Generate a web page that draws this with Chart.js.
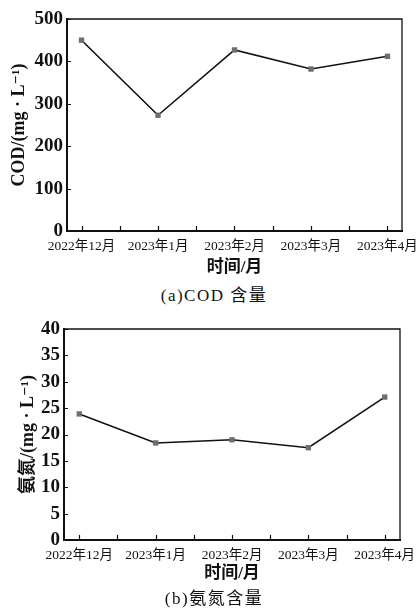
<!DOCTYPE html>
<html>
<head>
<meta charset="utf-8">
<script src="https://cdn.jsdelivr.net/npm/chart.js@4"></script>
<style>
    body { margin: 0; background: #fff; }
    .panel { position: relative; width: 419px; }
    .caption {
        position: absolute; left: 0; width: 428px; text-align: center;
        font-family: "Liberation Serif", "Times New Roman", Times, "DejaVu Serif", "Noto Sans CJK SC", serif;
        font-size: 17px; line-height: 18px; letter-spacing: 1.5px; color: #111;
    }
</style>
</head>
<body>
<div class="panel" style="height:310px">
    <div style="position:absolute;left:0;top:0;width:419px;height:285px"><canvas id="codChart"></canvas></div>
    <div class="caption" style="top:287px">(a)COD 含量</div>
</div>
<div class="panel" style="height:305px">
    <div style="position:absolute;left:0;top:0;width:419px;height:280px"><canvas id="nh3Chart"></canvas></div>
    <div class="caption" style="top:280px">(b)氨氮含量</div>
</div>
<script>
// data
const months = ['2022年12月', '2023年1月', '2023年2月', '2023年3月', '2023年4月'];
const codValues = [450, 273, 427, 382, 412];
const nh3Values = [23.9, 18.4, 19.0, 17.5, 27.1];

const SERIF = '"Liberation Serif", "Times New Roman", Times, "DejaVu Serif", "Noto Sans CJK SC", serif';

// tick positions: one per month plus a minor one in between
const xTickValues = months.flatMap((m, i) => i < months.length - 1 ? [i, i + 0.5] : [i]);

// frame on top/right + inward tick marks
const frameTicks = {
    id: 'frameTicks',
    afterDraw(chart) {
        const { ctx, chartArea: a, scales: { x, y } } = chart;
        ctx.save();
        ctx.strokeStyle = '#111';
        ctx.lineWidth = 1.3;
        ctx.beginPath();
        ctx.moveTo(a.left, a.top);
        ctx.lineTo(a.right, a.top);
        ctx.lineTo(a.right, a.bottom);
        ctx.stroke();

        ctx.lineWidth = 1.2;
        ctx.beginPath();
        x.ticks.forEach(t => {
            const px = Math.round(x.getPixelForValue(t.value)) + 0.5;
            ctx.moveTo(px, a.bottom);
            ctx.lineTo(px, a.bottom - 5);
        });
        y.ticks.forEach(t => {
            const py = Math.round(y.getPixelForValue(t.value)) + 0.5;
            ctx.moveTo(a.left, py);
            ctx.lineTo(a.left + 4, py);
        });
        ctx.stroke();
        ctx.restore();
    }
};

function makeChart(id, values, cfg) {
    const ctx = document.getElementById(id).getContext('2d');
    return new Chart(ctx, {
        type: 'line',
        data: {
            datasets: [{
                data: values.map((v, i) => ({ x: i, y: v })),
                borderColor: '#111',
                borderWidth: 1.6,
                pointStyle: 'rect',
                pointRadius: 3.8,
                pointBackgroundColor: '#6e6e6e',
                pointBorderColor: '#6e6e6e',
                pointBorderWidth: 0,
                tension: 0
            }]
        },
        options: {
            responsive: true,
            maintainAspectRatio: false,
            animation: false,
            layout: { padding: { top: 19, right: cfg.padRight, left: 0, bottom: 0 } },
            plugins: { legend: { display: false }, tooltip: { enabled: false } },
            scales: {
                x: {
                    type: 'linear',
                    min: cfg.xMin,
                    max: cfg.xMax,
                    afterBuildTicks: (scale) => { scale.ticks = xTickValues.map(v => ({ value: v })); },
                    afterFit: (scale) => {
                        scale.height = cfg.xHeight;
                        scale.paddingLeft = 0;
                        scale.paddingRight = 0;
                    },
                    grid: { drawOnChartArea: false, drawTicks: false },
                    border: { color: '#111', width: 2 },
                    ticks: {
                        autoSkip: false,
                        maxRotation: 0,
                        padding: 7,
                        color: '#111',
                        font: { family: SERIF, size: 13.5 },
                        callback: (v) => Number.isInteger(v) ? months[v] : ''
                    },
                    title: {
                        display: true,
                        text: '时间/月',
                        color: '#111',
                        font: { family: SERIF, size: 17, weight: 'bold' },
                        padding: { top: 0, bottom: cfg.xTitlePad }
                    }
                },
                y: {
                    min: 0,
                    max: cfg.yMax,
                    afterFit: (scale) => {
                        scale.width = cfg.yWidth;
                        scale.paddingTop = 0;
                        scale.paddingBottom = 0;
                    },
                    grid: { drawOnChartArea: false, drawTicks: false },
                    border: { color: '#111', width: 2 },
                    ticks: {
                        stepSize: cfg.yStep,
                        padding: 4,
                        color: '#111',
                        font: { family: SERIF, size: 19, weight: 'bold' }
                    },
                    title: {
                        display: true,
                        text: cfg.yTitle,
                        color: '#111',
                        font: { family: SERIF, size: 18, weight: 'bold' },
                        padding: { top: cfg.yTitlePad, bottom: 0 }
                    }
                }
            }
        },
        plugins: [frameTicks]
    });
}

makeChart('codChart', codValues, {
    yMax: 500, yStep: 100, yTitle: 'COD/(mg · L⁻¹)', yWidth: 67, yTitlePad: 9,
    xMin: -0.19, xMax: 4.19, xHeight: 54, xTitlePad: 7, padRight: 17
});

makeChart('nh3Chart', nh3Values, {
    yMax: 40, yStep: 5, yTitle: '氨氮/(mg · L⁻¹)', yWidth: 64, yTitlePad: 18,
    xMin: -0.2, xMax: 4.2, xHeight: 50, xTitlePad: 6, padRight: 19
});
</script>
</body>
</html>
